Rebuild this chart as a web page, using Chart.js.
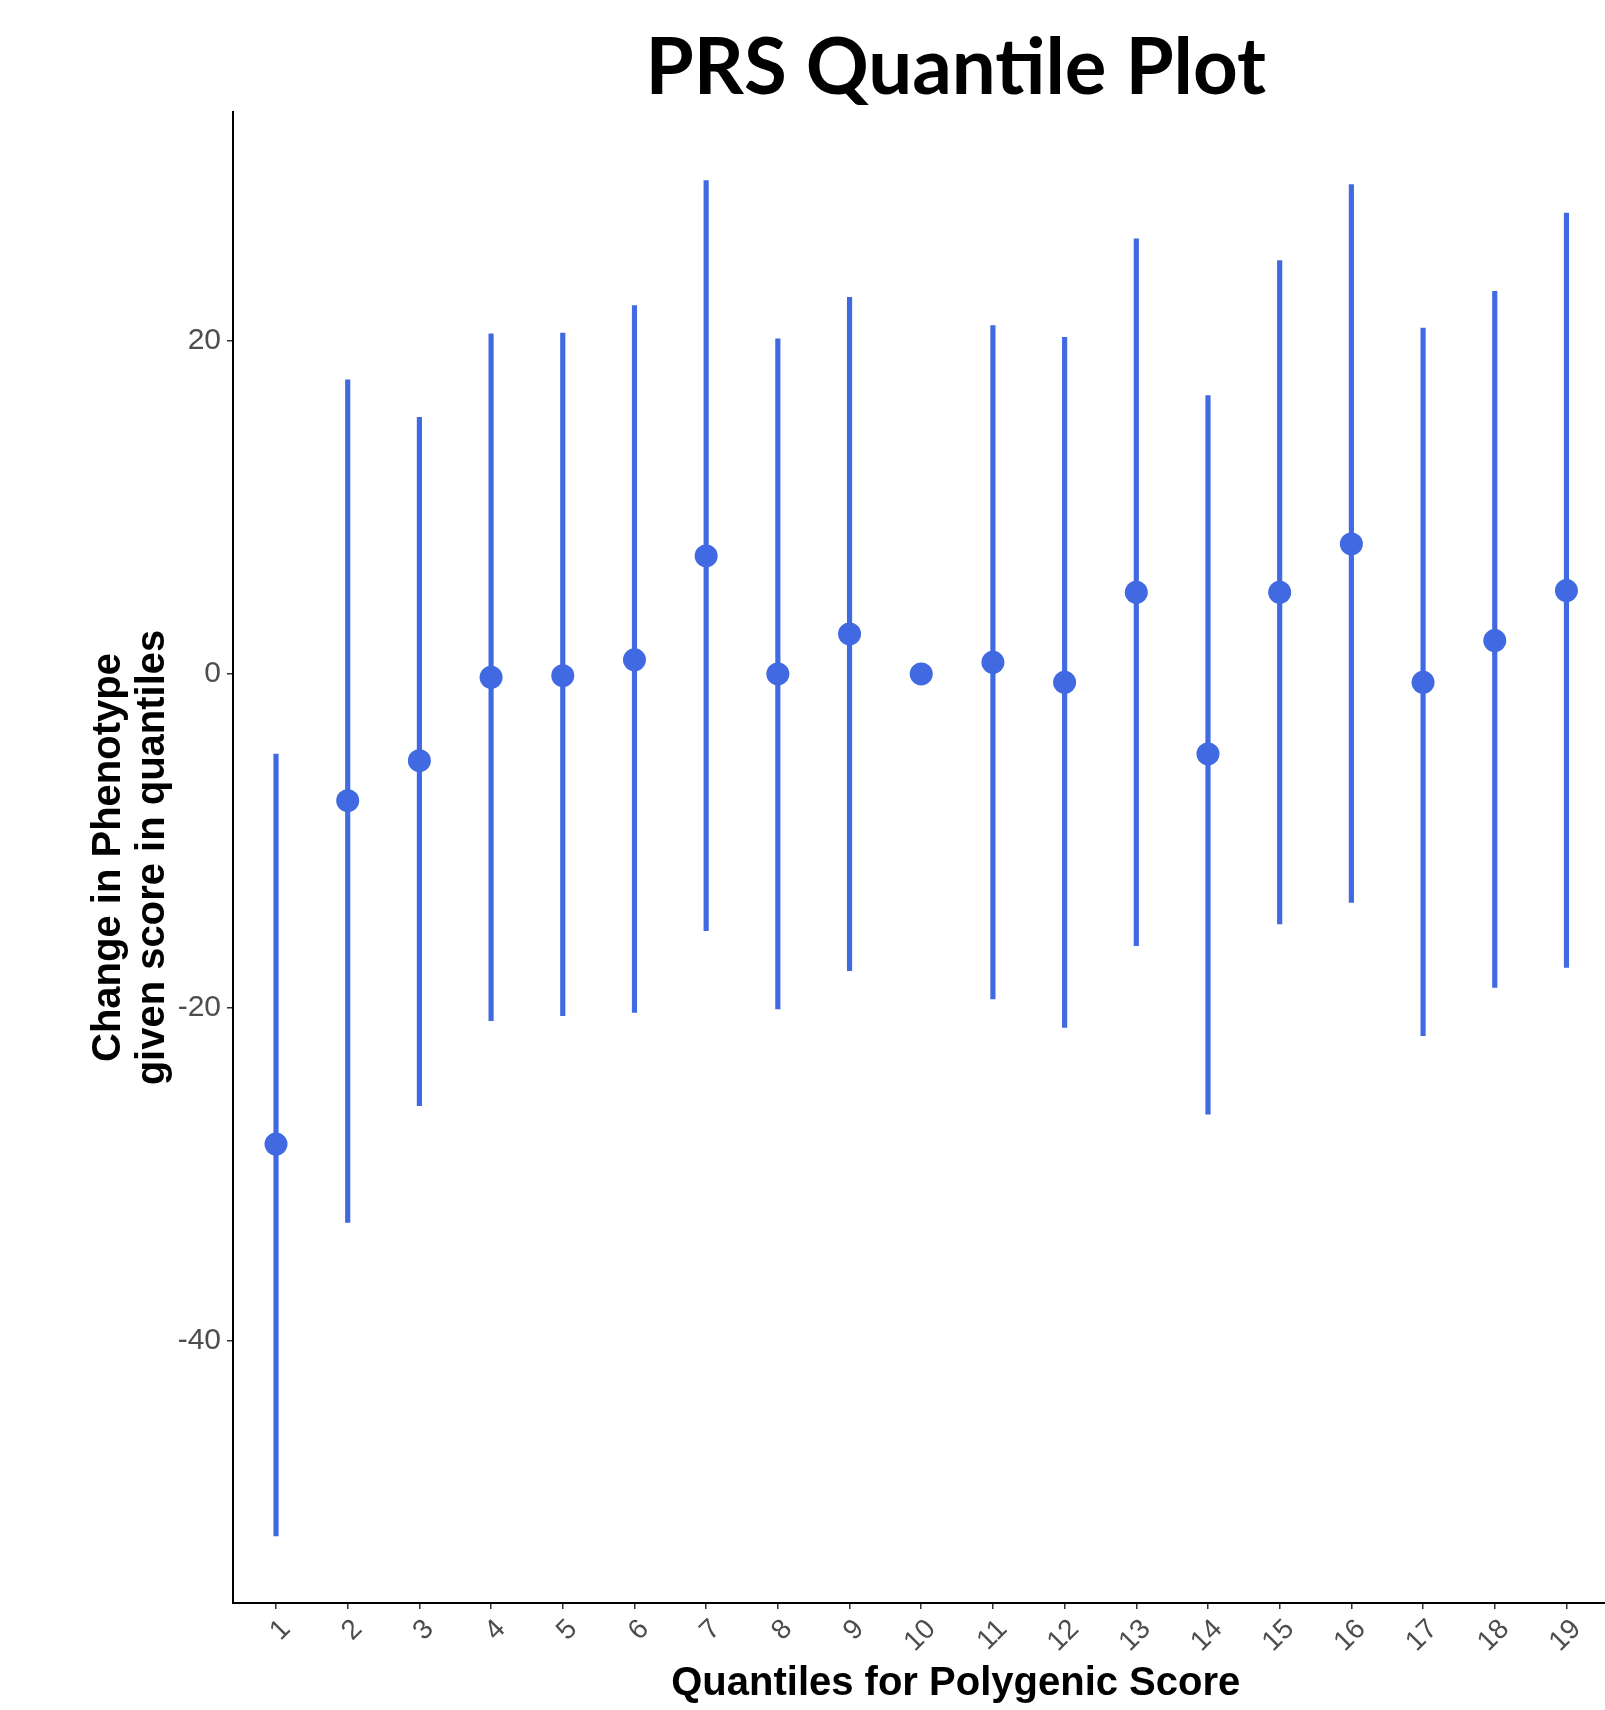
<!DOCTYPE html>
<html>
<head>
<meta charset="utf-8">
<title>PRS Quantile Plot</title>
<script src="https://cdn.jsdelivr.net/npm/chart.js@4.4.1/dist/chart.umd.min.js"></script>
<style>
  html, body { margin: 0; padding: 0; background: #ffffff; overflow: hidden; }
  /* the original panel runs a little past the right edge of the picture */
  #wrap { position: relative; width: 1690px; height: 1710px; }
</style>
</head>
<body>
<div id="wrap"><canvas id="chart" width="1690" height="1710"></canvas></div>
<script>
// --- Data ---
const quantiles = [1, 2, 3, 4, 5, 6, 7, 8, 9, 10, 11, 12, 13, 14, 15, 16, 17, 18, 19];
const tickLabels = ['1', '2', '3', '4', '5', '6', '7', '8', '9', '10',
                    '11', '12', '13', '14', '15', '16', '17', '18', '19'];
// point estimate per quantile (quantile 10 is the reference group)
const estimates = [-28.2, -7.6, -5.2, -0.2, -0.1, 0.85, 7.08, 0.0, 2.4, 0.0,
                   0.7, -0.5, 4.9, -4.8, 4.9, 7.8, -0.5, 2.0, 5.0];
const lowerCI = [-51.7, -32.9, -25.9, -20.8, -20.5, -20.3, -15.4, -20.1, -17.8, null,
                 -19.5, -21.2, -16.3, -26.4, -15.0, -13.7, -21.7, -18.8, -17.6];
const upperCI = [-4.8, 17.65, 15.4, 20.4, 20.45, 22.1, 29.6, 20.1, 22.6, null,
                 20.9, 20.2, 26.1, 16.7, 24.8, 29.35, 20.75, 22.95, 27.65];
const yTicks = [-40, -20, 0, 20];

const PALETTE = {
    marker: '#4169E1',   // royalblue
    axis: '#000000',
    tick: '#333333',
    tickText: '#4D4D4D',
    text: '#000000'
};

Chart.defaults.font.family = "'Liberation Sans', Arial, sans-serif";

(function() {
    'use strict';

    // Error bars as floating bars, skipping the reference quantile
    const ranges = [];
    quantiles.forEach((q, i) => {
        if (lowerCI[i] !== null && upperCI[i] !== null) {
            ranges.push({ x: q, y: [lowerCI[i], upperCI[i]] });
        }
    });

    const points = quantiles.map((q, i) => ({ x: q, y: estimates[i] }));

    const axisGrid = {
        drawOnChartArea: false,
        drawTicks: true,
        offset: false,
        tickLength: 6,
        color: PALETTE.tick,
        lineWidth: 1.5
    };

    new Chart(document.getElementById('chart'), {
        type: 'scatter',
        data: {
            datasets: [
                {
                    type: 'bar',
                    label: 'CI',
                    data: ranges,
                    backgroundColor: PALETTE.marker,
                    borderWidth: 0,
                    borderSkipped: false,
                    barThickness: 4.5,
                    grouped: false,
                    order: 1
                },
                {
                    type: 'scatter',
                    label: 'Estimate',
                    data: points,
                    backgroundColor: PALETTE.marker,
                    borderWidth: 0,
                    pointRadius: 11.5,
                    pointHoverRadius: 11.5,
                    order: 0
                }
            ]
        },
        options: {
            responsive: false,
            animation: false,
            events: [],
            layout: { padding: { left: 0, top: 0, right: 2, bottom: 0 } },
            plugins: {
                legend: { display: false },
                tooltip: { enabled: false },
                title: {
                    display: true,
                    text: 'PRS Quantile Plot',
                    fullSize: false, // centre over the panel, not the canvas
                    color: PALETTE.text,
                    font: { family: 'Lato', weight: 'bold', size: 78, lineHeight: 1 },
                    padding: { top: 30, bottom: 4 }
                }
            },
            scales: {
                x: {
                    type: 'linear',
                    offset: false,
                    min: 0.4,
                    max: 20.563,
                    afterBuildTicks: axis => {
                        axis.ticks = quantiles.map(v => ({ value: v }));
                    },
                    afterFit: scale => {
                        scale.height = 107;
                        // rotated labels must not eat into the panel width
                        scale.paddingLeft = 0;
                        scale.paddingRight = 0;
                    },
                    grid: axisGrid,
                    border: { display: true, color: PALETTE.axis, width: 2 },
                    ticks: {
                        autoSkip: false,
                        minRotation: 45,
                        maxRotation: 45,
                        padding: 4,
                        labelOffset: 10,
                        color: PALETTE.tickText,
                        font: { size: 28 },
                        callback: value => tickLabels[quantiles.indexOf(value)]
                    },
                    title: {
                        display: true,
                        text: 'Quantiles for Polygenic Score',
                        color: PALETTE.text,
                        font: { size: 40, weight: 'bold', lineHeight: 1 },
                        padding: { top: 0, bottom: 6 }
                    }
                },
                y: {
                    min: -55.73,
                    max: 33.71,
                    afterBuildTicks: axis => {
                        axis.ticks = yTicks.map(v => ({ value: v }));
                    },
                    afterFit: scale => { scale.width = 233; },
                    grid: axisGrid,
                    border: { display: true, color: PALETTE.axis, width: 2 },
                    ticks: {
                        padding: 6,
                        color: PALETTE.tickText,
                        font: { size: 30 },
                        callback: value => String(value)
                    },
                    title: {
                        display: true,
                        text: ['Change in Phenotype', 'given score in quantiles'],
                        color: PALETTE.text,
                        font: { size: 40, weight: 'bold', lineHeight: 1.1 },
                        padding: { top: 87, bottom: 0 }
                    }
                }
            }
        }
    });
})();
</script>
</body>
</html>
